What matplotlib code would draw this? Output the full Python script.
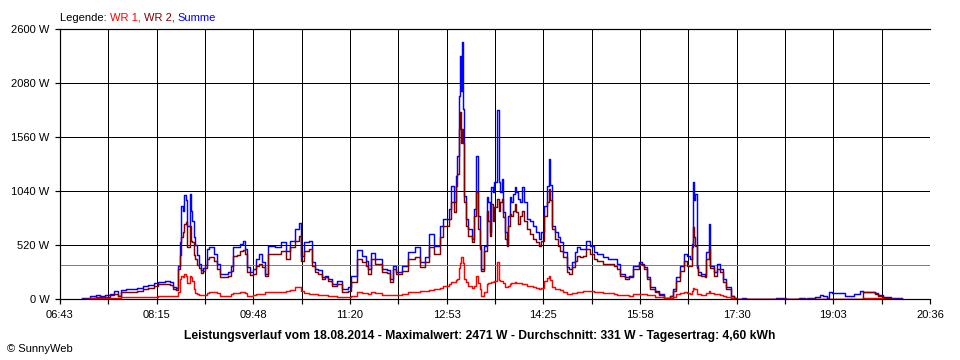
import matplotlib
matplotlib.use("Agg")
import matplotlib.pyplot as plt
import numpy as np

plt.rcParams['font.family'] = ['Liberation Sans', 'DejaVu Sans']

# time in minutes since midnight
times = [424, 432, 437, 441, 446, 451, 455, 459, 461, 466, 472, 477, 482, 487, 493, 497, 504, 508, 511, 514,
         516, 518, 519, 521, 522, 524, 525, 527, 528, 529, 531, 532, 534, 536, 538, 540, 542, 544, 546, 550,
         553, 556, 561, 564, 567, 569, 572, 575, 578, 580, 582, 585, 588, 591, 594, 596, 599, 602, 609, 615,
         619, 623, 628, 632, 634, 637, 641, 644, 647, 650, 654, 657, 660, 663, 668, 673, 679, 682, 687, 692,
         696, 698, 701, 705, 711, 716, 719, 722, 725, 730, 736, 743, 748, 752, 756, 761, 767, 770, 775, 777,
         780, 782, 783, 785, 786, 787, 788, 789, 790, 792, 794, 797, 799, 801, 803, 805, 806, 809, 812, 813,
         815, 816, 818, 819, 821, 823, 824, 826, 827, 829, 831, 832, 834, 835, 837, 839, 840, 842, 843, 845,
         847, 850, 853, 856, 859, 862, 864, 866, 869, 871, 872, 874, 877, 880, 882, 885, 888, 890, 893, 896,
         898, 901, 904, 907, 910, 914, 917, 923, 928, 933, 936, 939, 944, 948, 952, 957, 960, 962, 965, 968,
         973, 977, 981, 987, 990, 993, 997, 1000, 1003, 1006, 1008, 1009, 1010, 1011, 1013, 1014, 1017, 1021, 1022, 1024,
         1025, 1029, 1032, 1035, 1038, 1041, 1045, 1048, 1050, 1056, 1060, 1089, 1098, 1111, 1116, 1118, 1126, 1131, 1134, 1137,
         1139, 1142, 1155, 1163, 1169, 1172, 1183, 1186, 1191, 1199, 1209]

summe = [10, 26, 35, 32, 40, 50, 80, 30, 90, 96, 100, 110, 125, 135, 150, 167, 170, 160, 120, 110,
         320, 550, 900, 850, 1000, 950, 700, 1010, 850, 750, 600, 520, 420, 340, 280, 300, 330, 480, 500, 433,
         337, 240, 245, 257, 321, 498, 500, 530, 562, 481, 305, 260, 289, 385, 433, 360, 240, 513, 498, 545,
         465, 562, 674, 732, 417, 545, 562, 353, 289, 275, 209, 225, 193, 144, 177, 96, 112, 225, 475, 417,
         369, 289, 443, 385, 289, 280, 193, 321, 257, 321, 449, 498, 353, 401, 626, 514, 700, 770, 867, 1091,
         931, 1188, 1380, 1958, 2343, 2000, 2471, 1830, 995, 770, 674, 578, 867, 1380, 802, 514, 289, 514, 979, 931,
         642, 1075, 1030, 1123, 1820, 1123, 1027, 1155, 835, 642, 530, 803, 979, 931, 1011, 1075, 1027, 963, 930, 1075,
         931, 770, 754, 706, 642, 578, 642, 899, 1091, 1348, 1100, 706, 642, 594, 546, 449, 305, 290, 353, 449,
         498, 482, 482, 562, 514, 449, 433, 401, 385, 385, 337, 241, 209, 225, 321, 353, 340, 305, 209, 112,
         80, 48, 6, 32, 96, 209, 321, 433, 417, 385, 530, 1123, 950, 1011, 321, 257, 241, 225, 449, 722,
         321, 257, 337, 289, 193, 112, 32, 6, 0, 6, 0, 6, 0, 6, 0, 6, 16, 38, 32, 6,
         64, 58, 32, 48, 80, 70, 58, 38, 16, 6, 0]

wr2 = [0, 10, 15, 20, 20, 35, 50, 30, 65, 70, 72, 80, 95, 110, 130, 144, 144, 135, 100, 90,
       290, 420, 600, 650, 720, 740, 500, 700, 560, 550, 420, 390, 330, 300, 250, 270, 300, 390, 400, 369,
       289, 209, 212, 225, 273, 417, 420, 465, 470, 430, 257, 230, 240, 321, 340, 305, 225, 433, 433, 465,
       385, 498, 562, 610, 369, 465, 481, 321, 257, 245, 193, 209, 177, 128, 144, 64, 80, 160, 385, 353,
       321, 241, 385, 337, 257, 250, 160, 289, 241, 273, 385, 401, 305, 353, 498, 433, 600, 706, 770, 931,
       835, 1091, 1200, 1637, 1798, 1500, 1637, 1500, 931, 706, 610, 546, 802, 1027, 674, 482, 273, 465, 851, 754,
       610, 915, 754, 883, 963, 851, 931, 963, 786, 578, 514, 706, 819, 800, 851, 915, 835, 722, 800, 851,
       754, 674, 626, 578, 546, 514, 560, 803, 931, 1059, 950, 674, 578, 514, 465, 401, 257, 245, 305, 369,
       417, 401, 417, 482, 433, 385, 369, 337, 340, 321, 289, 225, 193, 209, 289, 337, 330, 290, 193, 96,
       70, 40, 6, 25, 80, 177, 273, 369, 321, 321, 500, 690, 600, 514, 300, 230, 225, 210, 385, 482,
       300, 225, 289, 257, 160, 96, 28, 6, 0, 0, 0, 0, 0, 0, 0, 0, 0, 0, 0, 0,
       0, 0, 0, 0, 0, 64, 50, 32, 10, 0, 0]

wr1 = [0, 6, 6, 6, 6, 10, 10, 12, 19, 19, 19, 19, 19, 22, 22, 26, 26, 26, 26, 30,
       64, 190, 220, 210, 240, 225, 150, 225, 210, 170, 100, 60, 45, 40, 35, 40, 40, 60, 64, 64,
       55, 32, 30, 26, 48, 55, 60, 64, 64, 60, 32, 32, 38, 45, 50, 50, 64, 70, 70, 70,
       75, 90, 112, 112, 80, 60, 48, 48, 45, 40, 38, 35, 30, 26, 22, 16, 16, 32, 64, 60,
       55, 50, 64, 55, 42, 42, 40, 42, 42, 50, 64, 70, 75, 80, 90, 96, 110, 128, 140, 160,
       160, 180, 190, 300, 350, 401, 401, 350, 193, 160, 128, 110, 130, 225, 150, 100, 32, 64, 144, 150,
       150, 160, 160, 170, 353, 180, 177, 170, 150, 120, 112, 130, 144, 150, 155, 160, 155, 150, 150, 144,
       140, 128, 125, 115, 105, 96, 110, 177, 200, 225, 180, 112, 100, 96, 90, 70, 48, 48, 55, 60,
       64, 70, 75, 80, 80, 70, 64, 60, 55, 50, 38, 36, 34, 32, 45, 45, 45, 45, 40, 35,
       22, 15, 6, 10, 20, 48, 55, 64, 60, 48, 80, 103, 100, 100, 50, 45, 40, 40, 60, 80,
       60, 45, 45, 40, 32, 22, 10, 4, 0, 0, 0, 0, 0, 0, 0, 0, 0, 0, 0, 0,
       0, 0, 0, 0, 0, 10, 10, 10, 3, 0, 0]

y_ticks = [0, 520, 1040, 1560, 2080, 2600]
x_start, x_end = 403, 1236  # 06:43 .. 20:36
x_labels = ["06:43", "08:15", "09:48", "11:20", "12:53", "14:25", "15:58", "17:30", "19:03", "20:36"]
average = 331
title_text = ("Leistungsverlauf vom 18.08.2014 - Maximalwert: 2471 W - Durchschnitt: 331 W - "
              "Tagesertrag: 4,60 kWh")

px = 0.72  # one pixel in points at dpi 100

fig = plt.figure(figsize=(9.6, 3.6), dpi=100)
fig.patch.set_facecolor("white")
ax = fig.add_axes([60 / 960, 61 / 360, 870 / 960, 270 / 360])
ax.set_facecolor("white")

lw_data = 1.45 * px
ax.plot(times, summe, drawstyle="steps-post", color="#0000FF", lw=lw_data, zorder=3)
ax.plot(times, wr2, drawstyle="steps-post", color="#800000", lw=lw_data, zorder=4)
ax.plot(times, wr1, drawstyle="steps-post", color="#FF0000", lw=lw_data, zorder=5)
ax.axhline(average, color="#808080", lw=px, zorder=2, antialiased=False)

ax.set_xlim(x_start, x_end)
ax.set_ylim(0, 2600)
xt = np.linspace(x_start, x_end, 19)
ax.set_xticks(xt)
lbls = []
for i in range(19):
    lbls.append(x_labels[i // 2] if i % 2 == 0 else "")
ax.set_xticklabels(lbls)
ax.set_yticks(y_ticks)
ax.set_yticklabels([f"{v} W" for v in y_ticks])

ax.grid(True, color="black", lw=px, zorder=1, antialiased=False)
ax.set_axisbelow(True)
ax.xaxis.get_gridlines()[-1].set_visible(False)
ax.xaxis.get_gridlines()[0].set_visible(False)
ax.yaxis.get_gridlines()[0].set_visible(False)
ax.yaxis.get_gridlines()[-1].set_visible(False)

for s in ["left", "bottom", "top"]:
    ax.spines[s].set_color("black")
    ax.spines[s].set_linewidth(1.2 * px)
    ax.spines[s].set_zorder(6)
ax.spines["right"].set_visible(False)

ax.tick_params(axis="both", direction="out", length=5 * px, width=1.2 * px, color="black",
               labelsize=8, labelcolor="black")
ax.tick_params(axis="x", pad=4)
ax.tick_params(axis="y", pad=4)

# legend line at top
t1 = fig.text(60 / 960, 1 - 21 / 360, "Legende: ", fontsize=8, color="black", va="baseline", ha="left")
prev = t1
for txt, col in [("WR 1, ", "#FF0000"), ("WR 2, ", "#800000"), ("Summe", "#0000FF")]:
    prev = ax.annotate(txt, xy=(1, 0), xycoords=prev, va="bottom", ha="left", fontsize=8, color=col,
                       annotation_clip=False)

fig.text(480 / 960, 1 - 339 / 360, title_text, fontsize=8.7, fontweight="bold", ha="center",
         va="baseline", color="black")
fig.text(7 / 960, 1 - 352 / 360, "© SunnyWeb", fontsize=8, ha="left", va="baseline", color="black")

fig.savefig("out.png", dpi=100, facecolor="white")
